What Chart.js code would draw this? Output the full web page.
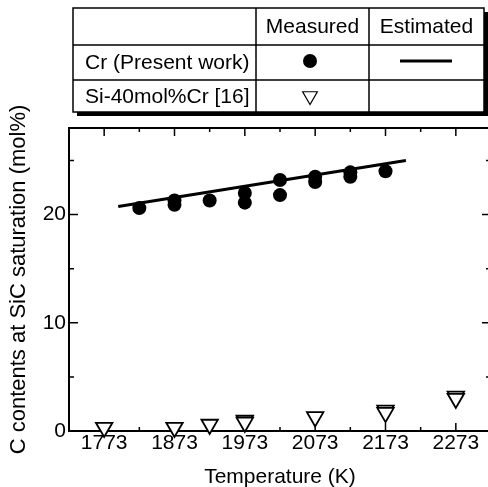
<!DOCTYPE html>
<html>
<head>
<meta charset="utf-8">
<script src="https://cdn.jsdelivr.net/npm/chart.js@4.4.0/dist/chart.umd.min.js"></script>
<style>
html, body { margin: 0; padding: 0; background: #fff; overflow: hidden; }
canvas { display: block; }
</style>
</head>
<body>
<canvas id="mycanvas" width="492" height="487" style="width:492px;height:487px"></canvas>
<script>
// axis ticks
var tempTicks = [1773, 1873, 1973, 2073, 2173, 2273];
var contentTicks = [0, 10, 20];

// Cr (Present work), measured
var crTemp    = [1823, 1873, 1873, 1923, 1973, 1973, 2023, 2023, 2073, 2073, 2123, 2123, 2173];
var crContent = [20.6, 21.3, 20.9, 21.3, 22.0, 21.1, 23.2, 21.8, 23.5, 23.0, 23.9, 23.5, 24.0];

// Si-40mol%Cr [16], measured
var siTemp    = [1773, 1873, 1923, 1973, 1973, 2073, 2173, 2173, 2273, 2273];
var siContent = [0.32, 0.32, 0.6, 0.97, 0.79, 1.3, 1.9, 1.7, 3.2, 3.0];

// Cr estimated line
var fitTemp    = [1793, 2202];
var fitContent = [20.75, 25.0];

var tableCols = ['Measured', 'Estimated'];
var tableRows = ['Cr (Present work)', 'Si-40mol%Cr [16]'];

var FONT = '"Liberation Sans", Arial, sans-serif';

function pairs(xs, ys) {
	var out = [];
	for (var i in xs) {
		out.push({x: xs[i], y: ys[i]});
	}
	return out;
}

// box, inward ticks on all four sides
var frameTicks = {
	id: 'frameTicks',
	beforeDatasetsDraw: function(chart) {
		var ctx = chart.ctx, a = chart.chartArea;
		var xs = chart.scales.x, ys = chart.scales.y;
		ctx.save();
		ctx.strokeStyle = '#000';
		ctx.lineWidth = 2;
		ctx.strokeRect(a.left, a.top, a.right - a.left, a.bottom - a.top);
		ctx.lineWidth = 1.5;
		ctx.beginPath();
		tempTicks.forEach(function(t) {
			var p = xs.getPixelForValue(t);
			ctx.moveTo(p, a.bottom); ctx.lineTo(p, a.bottom - 8);
			ctx.moveTo(p, a.top); ctx.lineTo(p, a.top + 8);
			if (t + 50 < xs.max) {
				var m = xs.getPixelForValue(t + 50);
				ctx.moveTo(m, a.bottom); ctx.lineTo(m, a.bottom - 4);
				ctx.moveTo(m, a.top); ctx.lineTo(m, a.top + 4);
			}
		});
		contentTicks.forEach(function(v) {
			var p = ys.getPixelForValue(v);
			ctx.moveTo(a.left, p); ctx.lineTo(a.left + 9, p);
			ctx.moveTo(a.right, p); ctx.lineTo(a.right - 9, p);
			if (v + 5 < ys.max) {
				var m = ys.getPixelForValue(v + 5);
				ctx.moveTo(a.left, m); ctx.lineTo(a.left + 5, m);
				ctx.moveTo(a.right, m); ctx.lineTo(a.right - 5, m);
			}
		});
		ctx.stroke();
		ctx.restore();
	}
};

// the table that works as the legend
var tableLegend = {
	id: 'tableLegend',
	afterDraw: function(chart) {
		var ctx = chart.ctx;
		var L = 73, R = 484, T = 8, B = 112;
		var c1 = 256, c2 = 369, r1 = 45, r2 = 80;
		ctx.save();
		ctx.fillStyle = '#000';
		ctx.fillRect(L + 4, T + 4, R - L, B - T);
		ctx.fillStyle = '#fff';
		ctx.fillRect(L, T, R - L, B - T);
		ctx.strokeStyle = '#000';
		ctx.lineWidth = 1.5;
		ctx.strokeRect(L, T, R - L, B - T);
		ctx.beginPath();
		ctx.moveTo(c1, T); ctx.lineTo(c1, B);
		ctx.moveTo(c2, T); ctx.lineTo(c2, B);
		ctx.moveTo(L, r1); ctx.lineTo(R, r1);
		ctx.moveTo(L, r2); ctx.lineTo(R, r2);
		ctx.stroke();

		ctx.fillStyle = '#000';
		ctx.font = '21px ' + FONT;
		ctx.textBaseline = 'middle';
		ctx.textAlign = 'center';
		ctx.fillText(tableCols[0], (c1 + c2) / 2, (T + r1) / 2 + 1);
		ctx.fillText(tableCols[1], (c2 + R) / 2, (T + r1) / 2 + 1);
		ctx.textAlign = 'left';
		ctx.fillText(tableRows[0], 85, (r1 + r2) / 2 + 1);
		ctx.fillText(tableRows[1], 85, (r2 + B) / 2 + 1);

		// symbols
		ctx.beginPath();
		ctx.arc(310, 61, 7, 0, Math.PI * 2);
		ctx.fill();
		ctx.lineWidth = 3;
		ctx.beginPath();
		ctx.moveTo(400, 61); ctx.lineTo(452, 61);
		ctx.stroke();
		ctx.fillStyle = '#fff';
		ctx.strokeStyle = '#000';
		ctx.lineWidth = 1.2;
		Chart.helpers.drawPoint(ctx, {pointStyle: 'triangle', rotation: 180, radius: 8.5, borderWidth: 1.2}, 310, 96);
		ctx.restore();
	}
};

var ctx = document.getElementById('mycanvas');

var chart = new Chart(ctx, {
	type: 'scatter',
	data: {
		datasets: [
			{
				label: tableRows[0] + ' measured',
				data: pairs(crTemp, crContent),
				pointStyle: 'circle',
				pointRadius: 7,
				backgroundColor: '#000',
				borderColor: '#000',
				borderWidth: 0,
				clip: false
			},
			{
				label: tableRows[0] + ' estimated',
				data: pairs(fitTemp, fitContent),
				showLine: true,
				borderColor: '#000',
				borderWidth: 3,
				pointRadius: 0,
				clip: false
			},
			{
				label: tableRows[1],
				data: pairs(siTemp, siContent),
				pointStyle: 'triangle',
				rotation: 180,
				pointRadius: 9.5,
				backgroundColor: '#fff',
				borderColor: '#000',
				borderWidth: 1.8,
				clip: false
			}
		]
	},
	options: {
		responsive: false,
		animation: false,
		devicePixelRatio: 1,
		layout: { autoPadding: false, padding: { top: 128, right: 1, left: 0, bottom: 0 } },
		plugins: {
			legend: { display: false },
			tooltip: { enabled: false }
		},
		scales: {
			x: {
				type: 'linear',
				min: 1723,
				max: 2323,
				afterBuildTicks: function(s) { s.ticks = tempTicks.map(function(v) { return {value: v}; }); },
				afterFit: function(s) { s.height = 56; },
				grid: { display: false, drawTicks: false },
				border: { display: false },
				ticks: {
					color: '#000',
					padding: 0,
					font: { family: FONT, size: 21 },
					callback: function(v) { return String(v); }
				},
				title: {
					display: true,
					text: 'Temperature (K)',
					color: '#000',
					font: { family: FONT, size: 21, lineHeight: 1 },
					padding: { top: 0, bottom: -1 }
				}
			},
			y: {
				type: 'linear',
				min: 0,
				max: 28,
				afterBuildTicks: function(s) { s.ticks = contentTicks.map(function(v) { return {value: v}; }); },
				afterFit: function(s) { s.width = 69; },
				grid: { display: false, drawTicks: false },
				border: { display: false },
				ticks: {
					color: '#000',
					padding: 3,
					font: { family: FONT, size: 21 },
					callback: function(v) { return String(v); }
				},
				title: {
					display: true,
					text: 'C contents at SiC saturation (mol%)',
					color: '#000',
					font: { family: FONT, size: 22, lineHeight: 1 },
					padding: { top: 8, bottom: 0 }
				}
			}
		}
	},
	plugins: [frameTicks, tableLegend]
});
</script>
</body>
</html>
